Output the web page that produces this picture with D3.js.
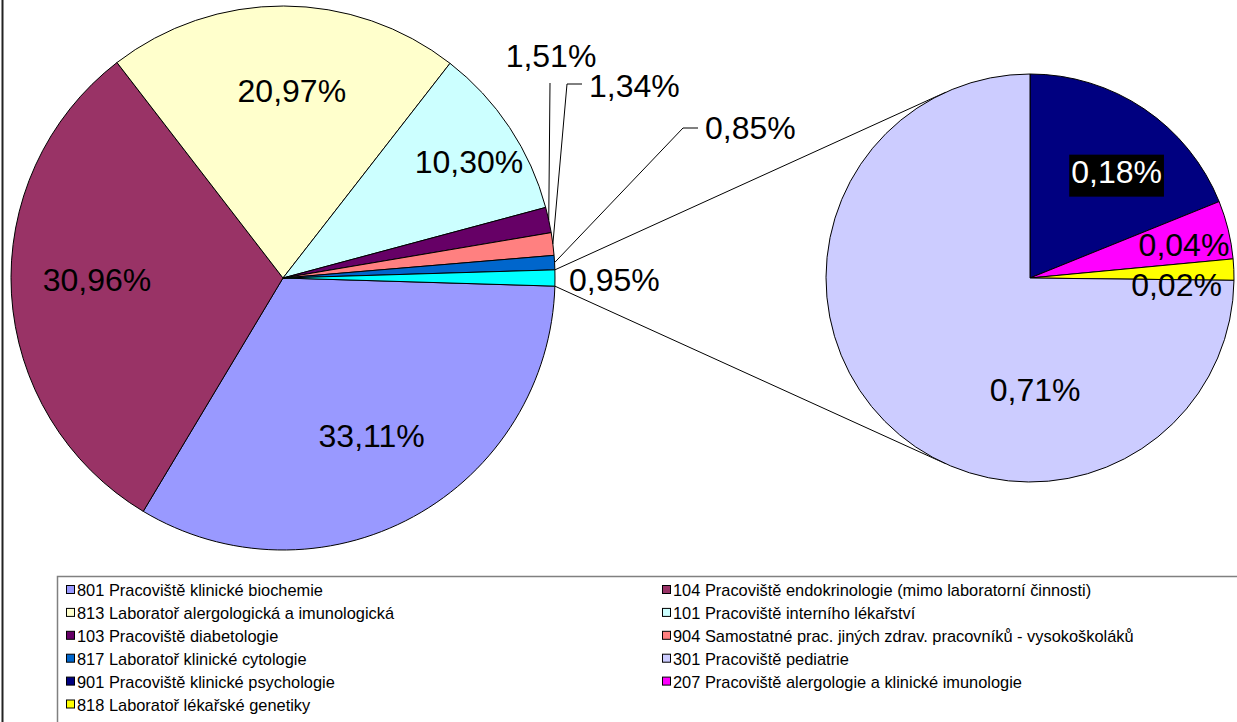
<!DOCTYPE html>
<html>
<head>
<meta charset="utf-8">
<script src="https://cdn.jsdelivr.net/npm/d3@7"></script>
<style>
body { margin: 0; background: #fff; }
svg { display: block; font-family: "Liberation Sans", Arial, sans-serif; }
</style>
</head>
<body>
<script>
// main pie (last slice "other" is split into the small pie)
var mainCodes = ["801", "104", "813", "101", "103", "904", "817"];
var mainValues = [33.11, 30.96, 20.97, 10.30, 1.51, 1.34, 0.85];

// secondary pie
var subCodes = ["901", "207", "818", "301"];
var subValues = [0.180, 0.044, 0.016, 0.713];

var legendCodes = ["801", "104", "813", "101", "103", "904", "817", "301", "901", "207", "818"];
var legendNames = [
  "801 Pracoviště klinické biochemie",
  "104 Pracoviště endokrinologie (mimo laboratorní činnosti)",
  "813 Laboratoř alergologická a imunologická",
  "101 Pracoviště interního lékařství",
  "103 Pracoviště diabetologie",
  "904 Samostatné prac. jiných zdrav. pracovníků - vysokoškoláků",
  "817 Laboratoř klinické cytologie",
  "301 Pracoviště pediatrie",
  "901 Pracoviště klinické psychologie",
  "207 Pracoviště alergologie a klinické imunologie",
  "818 Laboratoř lékařské genetiky"
];

var colors = {
  "801": "#9999ff", "104": "#993366", "813": "#ffffcc", "101": "#ccffff",
  "103": "#660066", "904": "#ff8080", "817": "#0066cc", "other": "#00ffff",
  "301": "#ccccff", "901": "#000080", "207": "#ff00ff", "818": "#ffff00"
};

var W = 1237, H = 722;
var fmt = function(v) { return d3.format(".2f")(v).replace(".", ",") + "%"; };
var rad = function(deg) { return deg * Math.PI / 180; };

var svg = d3.select("body").append("svg")
    .attr("width", W)
    .attr("height", H);

// chart frame (only the left edge is in view)
svg.append("line")
    .attr("x1", 2.5).attr("x2", 2.5).attr("y1", 0).attr("y2", H)
    .attr("stroke", "#222").attr("stroke-width", 2);

var main = {cx: 283, cy: 278, r: 272};
var sub = {cx: 1030, cy: 278, r: 204};

var otherValue = d3.sum(subValues);
var mainData = mainCodes.map(function(c, i) { return {code: c, value: mainValues[i]}; });
mainData.push({code: "other", value: otherValue});
var total = d3.sum(mainData, function(d) { return d.value; });
var otherAngle = 2 * Math.PI * otherValue / total;
var start = Math.PI / 2 + otherAngle / 2;

var mainArcs = d3.pie().sort(null).value(function(d) { return d.value; })
    .startAngle(start).endAngle(start + 2 * Math.PI)(mainData);

var subData = subCodes.map(function(c, i) { return {code: c, value: subValues[i]}; });
var subArcs = d3.pie().sort(null).value(function(d) { return d.value; })(subData);

function polar(p, ang, k) {
  return [p.cx + k * p.r * Math.sin(ang), p.cy - k * p.r * Math.cos(ang)];
}

// connector lines: from the "other" slice edges, tangent to the small pie
var oth = mainArcs[mainArcs.length - 1];
function tangent(P, sign) {
  var dx = P[0] - sub.cx, dy = P[1] - sub.cy;
  var d = Math.sqrt(dx * dx + dy * dy);
  var a = Math.atan2(dy, dx) + sign * Math.acos(sub.r / d);
  return [sub.cx + sub.r * Math.cos(a), sub.cy + sub.r * Math.sin(a)];
}
var pTop = polar(main, oth.startAngle, 1), pBot = polar(main, oth.endAngle, 1);
[[pTop, tangent(pTop, 1)], [pBot, tangent(pBot, -1)]].forEach(function(l) {
  svg.append("line")
      .attr("x1", l[0][0]).attr("y1", l[0][1])
      .attr("x2", l[1][0]).attr("y2", l[1][1])
      .attr("stroke", "#000").attr("stroke-width", 1);
});

var arcMain = d3.arc().innerRadius(0).outerRadius(main.r);
var arcSub = d3.arc().innerRadius(0).outerRadius(sub.r);

svg.append("g").attr("transform", "translate(" + main.cx + "," + main.cy + ")")
  .selectAll("path").data(mainArcs).enter().append("path")
    .attr("d", arcMain)
    .attr("fill", function(d) { return colors[d.data.code]; })
    .attr("stroke", "#000").attr("stroke-width", 1);

svg.append("g").attr("transform", "translate(" + sub.cx + "," + sub.cy + ")")
  .selectAll("path").data(subArcs).enter().append("path")
    .attr("d", arcSub)
    .attr("fill", function(d) { return colors[d.data.code]; })
    .attr("stroke", "#000").attr("stroke-width", 1);

// inside labels: angle (deg) and radius factor
var inside = {
  "801": {a: 150.7, k: 0.666}, "104": {a: 269.4, k: 0.684},
  "813": {a: 2.7, k: 0.69}, "101": {a: 58.0, k: 0.806},
  "901": {a: 39.1, k: 0.673}, "207": {a: 77.9, k: 0.772},
  "818": {a: 92.7, k: 0.719}, "301": {a: 177.4, k: 0.55}
};

function insideLabel(p, d) {
  var L = inside[d.data.code];
  var pos = polar(p, rad(L.a), L.k);
  var t = svg.append("text")
      .attr("x", pos[0]).attr("y", pos[1]).attr("dy", "0.35em")
      .attr("text-anchor", "middle")
      .attr("font-size", 32)
      .attr("fill", d.data.code === "901" ? "#fff" : "#000")
      .text(fmt(d.data.value));
  if (d.data.code === "901") {
    var b = t.node().getBBox();
    svg.insert("rect", function() { return t.node(); })
        .attr("x", b.x - 2).attr("y", b.y + 1)
        .attr("width", b.width + 4).attr("height", b.height + 6)
        .attr("fill", "#000");
  }
}
mainArcs.forEach(function(d) { if (inside[d.data.code]) insideLabel(main, d); });
subArcs.forEach(function(d) { if (inside[d.data.code]) insideLabel(sub, d); });

// callout labels for thin slices: elbow and tail relative to main centre
var callouts = {
  "103": {elbow: [267, -195], tail: 0, tx: 268, ty: -211, anchor: "middle"},
  "904": {elbow: [284, -194], tail: 15, tx: 306, ty: -181, anchor: "start"},
  "817": {elbow: [400, -150], tail: 15, tx: 422, ty: -139, anchor: "start"}
};
mainArcs.forEach(function(d) {
  var c = callouts[d.data.code];
  if (!c) return;
  var mid = (d.startAngle + d.endAngle) / 2;
  var e = polar(main, mid, 1);
  var ex = main.cx + c.elbow[0], ey = main.cy + c.elbow[1];
  var pts = [e, [ex, ey], [ex + c.tail, ey]];
  svg.append("path")
      .attr("d", d3.line()(pts))
      .attr("fill", "none").attr("stroke", "#000").attr("stroke-width", 1);
  svg.append("text")
      .attr("x", main.cx + c.tx).attr("y", main.cy + c.ty)
      .attr("text-anchor", c.anchor).attr("font-size", 32)
      .text(fmt(d.data.value));
});

// label for the "other" slice, just outside the pie edge
var om = polar(main, (oth.startAngle + oth.endAngle) / 2, 1);
svg.append("text")
    .attr("x", om[0] + 14).attr("y", om[1]).attr("dy", "0.4em")
    .attr("font-size", 32)
    .text(fmt(otherValue));

// legend
var lg = svg.append("g");
lg.append("rect")
    .attr("x", 57.5).attr("y", 576.5).attr("width", 1300).attr("height", 300)
    .attr("fill", "#fff").attr("stroke", "#808080").attr("stroke-width", 1.5);
var colX = [66, 662], row0 = 590, rowH = 22.9;
legendCodes.forEach(function(c, i) {
  var x = colX[i % 2], y = row0 + Math.floor(i / 2) * rowH;
  lg.append("rect")
      .attr("x", x + 0.5).attr("y", y - 4.5).attr("width", 8).attr("height", 8)
      .attr("fill", colors[c]).attr("stroke", "#000").attr("stroke-width", 1);
  lg.append("text")
      .attr("x", x + 11).attr("y", y + 6)
      .attr("font-size", 16.4)
      .text(legendNames[i]);
});
</script>
</body>
</html>
